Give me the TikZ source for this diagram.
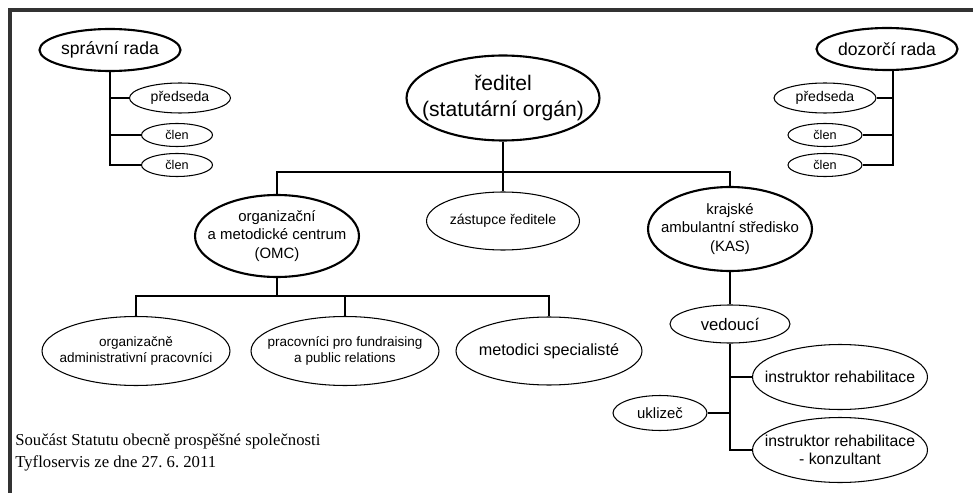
\documentclass[tikz,border=0pt]{standalone}
\usepackage{fontspec}
\setmainfont{Liberation Sans}
\newfontfamily\footfont{Liberation Serif}
\usetikzlibrary{shapes.geometric,positioning}
\newcommand\fsz[2]{\fontsize{#1}{#2}\selectfont}
\frenchspacing

\tikzset{
        unit/.style={ellipse, draw=black, line width=0.6pt, inner sep=0pt},
        main/.style={unit, line width=1.2pt},
        txt/.style={align=center, inner sep=0pt, text=black},
        tx/.style 2 args={label={[txt,font=#1]center:{#2}}},
        link/.style={black, line width=0.6pt}
}

\begin{document}
\begin{tikzpicture}[x=0.02cm, y=-0.02cm]
                \useasboundingbox (0,0) rectangle (973,493);
                \draw[black!80, line width=2.2pt] (10,493) -- (10,10) -- (973,10);

                % rady
                \node[main, minimum width=2.82cm, minimum height=0.84cm, tx={\fsz{10}{12}}{správní rada}] (sr) at (110,50) {};
                \node[unit, minimum width=2.02cm, minimum height=0.60cm, tx={\fsz{8}{10}}{předseda}] (sr1) at (180,98) {};
                \node[unit, minimum width=1.42cm, minimum height=0.46cm, tx={\fsz{7.2}{9}}{člen}] (sr2) at (177,135) {};
                \node[unit, minimum width=1.42cm, minimum height=0.46cm, tx={\fsz{7.2}{9}}{člen}] (sr3) at (177,165) {};

                \node[main, minimum width=2.82cm, minimum height=0.84cm, tx={\fsz{10}{12}}{dozorčí rada}] (dr) at (887,49) {};
                \node[unit, minimum width=2.04cm, minimum height=0.60cm, tx={\fsz{8}{10}}{předseda}] (dr1) at (825,98) {};
                \node[unit, minimum width=1.48cm, minimum height=0.46cm, tx={\fsz{7.2}{9}}{člen}] (dr2) at (825,135) {};
                \node[unit, minimum width=1.48cm, minimum height=0.46cm, tx={\fsz{7.2}{9}}{člen}] (dr3) at (825,165) {};

                \draw[link] (sr.south) |- (sr1.west);
                \draw[link] (sr.south) |- (sr2.west);
                \draw[link] (sr.south) |- (sr3.west);
                \draw[link] ([xshift=0.12cm]dr.south) |- (dr1.east);
                \draw[link] ([xshift=0.12cm]dr.south) |- (dr2.east);
                \draw[link] ([xshift=0.12cm]dr.south) |- (dr3.east);

                % reditel a useky
                \node[main, minimum width=3.86cm, minimum height=1.70cm, tx={\fsz{12}{15}}{ředitel\\(statutární orgán)}] (red) at (503,98) {};
                \node[unit, minimum width=3.06cm, minimum height=1.16cm, tx={\fsz{8}{10}}{zástupce ředitele}] (zast) at (503,221) {};
                \node[main, minimum width=3.28cm, minimum height=1.64cm, tx={\fsz{8.5}{10.4}}{organizační\\a metodické centrum\\(OMC)}] (omc) at (277,236) {};
                \node[main, minimum width=3.28cm, minimum height=1.68cm, tx={\fsz{8.5}{10.4}}{krajské\\ambulantní středisko\\(KAS)}] (kas) at (730,229) {};
                \coordinate (bus) at (503,172);

                \draw[link] (red.south) -- (zast.north);
                \draw[link] (omc.north) -- (omc.north |- bus) -| (kas.north);

                % OMC
                \node[unit, minimum width=3.76cm, minimum height=1.38cm, tx={\fsz{7.7}{8.9}}{organizačně\\administrativní pracovníci}] (oap) at (136,351) {};
                \node[unit, minimum width=3.76cm, minimum height=1.38cm, tx={\fsz{7.7}{8.9}}{pracovníci pro fundraising\\a public relations}] (pfr) at (345,351) {};
                \node[unit, minimum width=3.72cm, minimum height=1.36cm, tx={\fsz{9.2}{11}}{metodici specialisté}] (mes) at (549,351) {};
                \coordinate (bus2) at (277,296);

                \draw[link] (omc.south) -- (bus2);
                \draw[link] (oap.north) |- (bus2) -| (mes.north);
                \draw[link] (pfr.north) -- (pfr.north |- bus2);

                % KAS
                \node[unit, minimum width=2.40cm, minimum height=0.76cm, tx={\fsz{9.5}{11}}{vedoucí}] (ved) at (730,324) {};
                \node[unit, minimum width=3.50cm, minimum height=1.30cm, tx={\fsz{9}{10.4}}{instruktor rehabilitace}] (ir1) at (840,377) {};
                \node[unit, minimum width=1.88cm, minimum height=0.70cm, tx={\fsz{8.5}{10}}{uklizeč}] (uk) at (660,413) {};
                \node[unit, minimum width=3.50cm, minimum height=1.30cm, tx={\fsz{9}{10.4}}{instruktor rehabilitace\\- konzultant}] (ir2) at (840,450) {};

                \draw[link] (kas.south) -- (ved.north);
                \draw[link] (ved.south) |- (ir1.west);
                \draw[link] (ved.south) |- (uk.east);
                \draw[link] (ved.south) |- (ir2.west);

                \node[anchor=base west, align=left, inner sep=0pt, font=\footfont\fsz{9.5}{12.5}] (note) at (15,467) {Součást Statutu obecně prospěšné společnosti\\Tyfloservis ze dne 27. 6. 2011};
\end{tikzpicture}
\end{document}
